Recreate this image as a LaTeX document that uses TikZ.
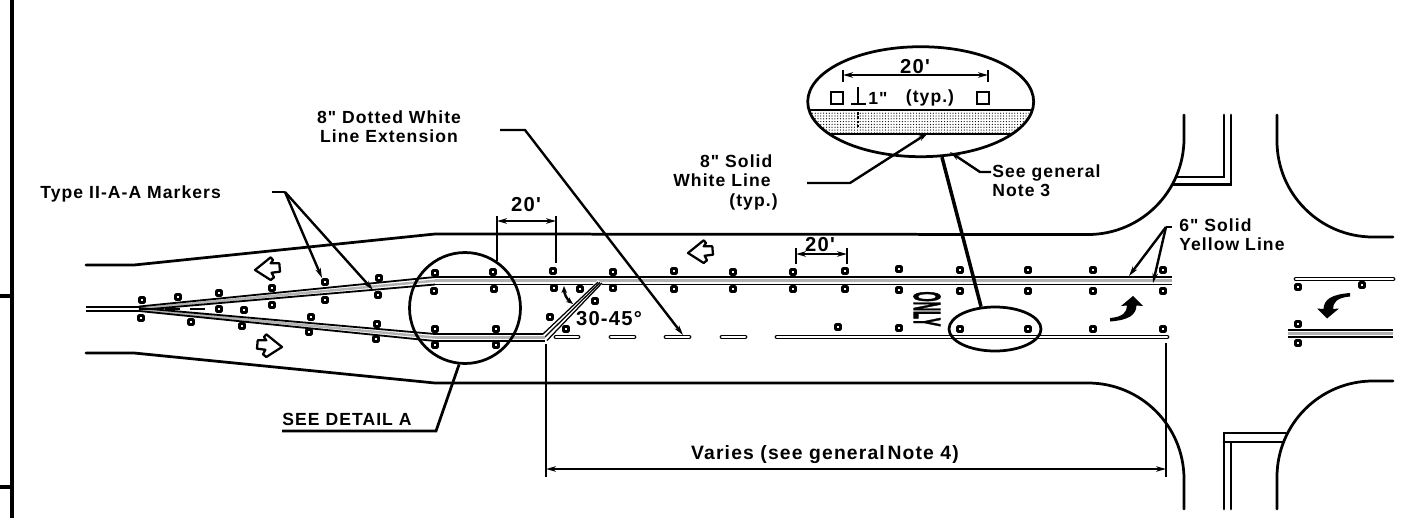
\documentclass[tikz,border=0pt]{standalone}
\usepackage{fontspec}
\setmainfont[LetterSpace=6,Ligatures=TeXOff]{Liberation Sans}
\usetikzlibrary{arrows.meta,shapes.geometric,patterns.meta}
\newcommand{\lblfont}{\fontsize{10}{11}\selectfont\bfseries}
\tikzset{
	roadline/.style={line width=.055cm,line cap=round},
	leader/.style={line width=.048cm},
	dimline/.style={line width=.042cm,<->},
	lbl/.style={inner sep=0,font=\lblfont},
	biglbl/.style={inner sep=0,font=\fontsize{11.5}{13}\selectfont\bfseries},
	marker/.style={draw,rectangle,rounded corners=.5pt,line width=.055cm,minimum size=.1cm,inner sep=0},
	band/.style={line width=.036cm},
	bandmid/.style={line width=.05cm,gray!60},
	pill/.style={line width=.025cm,double=white,double distance=.045cm,line cap=round},
	blockarrow/.pic={\draw[line width=.045cm,line join=round] (0,0) -- (15.7,-12.7) -- (18,-10) -- (15.7,-6.7) -- (24.3,-6.7) -- (25,1.7) -- (16.7,2.7) -- (19,7.3) -- (15.7,10) -- cycle;},
	turnarrow/.pic={\fill (0,0) -- (10,10) -- (3.5,9.5) .. controls (3,19) and (-4,24) .. (-23,25.5) -- (-23,22) .. controls (-10,21) and (-6,16) .. (-6,9.5) -- (-12,10) -- cycle;}
}
\begin{document}
\begin{tikzpicture}[x=.02cm,y=-.02cm,>={Stealth[length=.2cm,width=.11cm]}]
	\useasboundingbox (0,0) rectangle (1421,518);
	% sheet border
	\draw[line width=.09cm] (12,0) -- (12,518);
	\draw[line width=.07cm] (0,296) -- (12,296) (0,487) -- (12,487);
	% road edges
	\draw[roadline] (86,265) -- (134,265) -- (435,234) -- (1088,234.5) arc[start angle=90,end angle=0,radius=96] -- (1184,115);
	\draw[roadline] (86,353) -- (134,353) -- (435,383) -- (1088,383) arc[start angle=-90,end angle=0,radius=96] -- (1184,509);
	\draw[roadline] (1277,115) -- (1277,141) arc[start angle=180,end angle=90,radius=96] -- (1393,237);
	\draw[roadline] (1277,509) -- (1277,477) arc[start angle=180,end angle=270,radius=96] -- (1393,381);
	% stop bars
	\draw[roadline] (1224,115) -- (1224,177) -- (1177,177);
	\draw[roadline] (1231,115) -- (1231,184.5) -- (1173,184.5);
	\draw[roadline] (1224,509) -- (1224,433) -- (1286,433);
	\draw[roadline] (1231,509) -- (1231,442) -- (1224,442) (1231,442) -- (1283,442);
	% pavement markings
	\draw[band] (86,307) -- (139,307) (86,311) -- (139,311);
	\draw[bandmid] (139,308.5) -- (435,280.7);
	\draw[band] (139,306.5) -- (435,277) (139,310) -- (435,284.5);
	\draw[bandmid] (139,309.5) -- (435,337.5);
	\draw[band] (139,308) -- (435,334) (139,311) -- (435,341);
	\draw[line width=.05cm] (139,309) -- (150,309) (165,309) -- (180,309) (190,309) -- (205,309);
	\draw[bandmid] (435,280.7) -- (1172,280.7);
	\draw[band] (435,277) -- (1172,277) (435,284.5) -- (1172,284.5);
	\draw[bandmid] (435,337.5) -- (545,337.5);
	\draw[band] (435,334) -- (545,334) (435,341) -- (545,341);
	\draw[white,line width=.12cm] (545,337) -- (600,282);
	\draw[line width=.025cm] (543,334) -- (598,282) (545,337) -- (600,282.5) (547,340.5) -- (602,283);
	\foreach \xa/\xb in {556/578,611/634,666/689,722/745,777/1167}
		\draw[pill] (\xa,337) -- (\xb,337);
	\draw[pill] (1296,279) -- (1393,279);
	\draw[bandmid] (1288,333.5) -- (1393,333.5);
	\draw[band] (1288,330) -- (1393,330) (1288,337) -- (1393,337);
	% raised markers
	\foreach \mx/\my [count=\i] in {142/300,141/318,178/297,191/322,219/293,219/309,244/310,242/326,272/288,272/305,311/317,309/332,325/282,325/300,377/324,376/339,379/278,378/295,435/273,434/291,435/329,435/345,493/272,494/289,496/329,496/345,553/271,554/288,580/289,595/301,550/317,566/329,613/272,613/288,674/271,674/289,733/272,733/289,793/272,793/289,845/271,845/289,899/269,899/290,960/270,960/291,1028/270,1028/291,1093/270,1093/291,1163/270,1163/291,838/327,899/328,960/329,1028/329,1093/329,1163/329,1298/287,1362/285,1298/324,1298/343}
		\node[marker] (mk\i) at (\mx,\my) {};
	% pavement arrows
	\pic at (255,270) {blockarrow};
	\pic[xscale=-1] at (282,347) {blockarrow};
	\pic at (688,253) {blockarrow};
	\pic at (1133,296) {turnarrow};
	\pic[rotate=180] at (1327,318.5) {turnarrow};
	\node[inner sep=0] (onlyword) at (927,309) {\rotatebox{-90}{\scalebox{.82}[2.4]{\fontsize{9}{10}\selectfont\bfseries\addfontfeature{LetterSpace=0,FakeBold=2.5}ONLY}}};
	% detail circles
	\node[draw,circle,line width=.055cm,minimum size=2.22cm,inner sep=0] (detailA) at (465,308) {};
	\node[draw,ellipse,line width=.055cm,minimum width=1.84cm,minimum height=.88cm,inner sep=0] (smallOval) at (995,329) {};
	\begin{scope}
		\clip (920.7,101.7) ellipse [x radius=113,y radius=55];
		\fill[pattern={Dots[distance=1.6pt,radius=.35pt]}] (800,110) rectangle (1040,134);
		\draw[line width=.03cm] (800,110) -- (1040,110) (800,134) -- (1040,134);
	\end{scope}
	\node[draw,ellipse,line width=.055cm,minimum width=4.52cm,minimum height=2.2cm,inner sep=0] (bigOval) at (920.7,101.7) {};
	\draw[line width=.07cm] (bigOval.-69) -- (smallOval.122);
	% callout contents
	\node[draw,line width=.04cm,minimum size=.24cm,inner sep=0] (boxL) at (837,98) {};
	\node[draw,line width=.04cm,minimum size=.24cm,inner sep=0] (boxR) at (983,98) {};
	\coordinate (calloutDimL) at (843,75);
	\coordinate (calloutDimR) at (988,75);
	\draw[leader] (843,70) -- (843,82) (988,70) -- (988,82);
	\draw[dimline] (calloutDimL) -- (calloutDimR);
	\node[biglbl] (calloutTw) at (915,67) {20'};
	\draw[leader] (858,87) -- (858,104) (851,104) -- (866,104);
	\draw[line width=.05cm,densely dotted] (858,112) -- (858,129);
	\node[lbl] (oneInch) at (878,98) {1"};
	\node[lbl] (typA) at (930,98) {(typ.)};
	% dimensions
	\coordinate (dimAL) at (497,221);
	\coordinate (dimAR) at (556,221);
	\draw[leader] (497,216) -- (497,261) (556,216) -- (556,263);
	\draw[dimline] (dimAL) -- (dimAR);
	\node[biglbl] (dimAlbl) at (526,205) {20'};
	\coordinate (dimBL) at (796,254);
	\coordinate (dimBR) at (847,254);
	\draw[leader] (796,248) -- (796,264) (847,248) -- (847,264);
	\draw[dimline] (dimBL) -- (dimBR);
	\node[biglbl] (dimBlbl) at (820,245) {20'};
	\coordinate (dimCL) at (546,469);
	\coordinate (dimCR) at (1166,469);
	\draw[leader] (546,344) -- (546,477) (1166,343) -- (1166,477);
	\draw[dimline] (dimCL) -- (dimCR);
	\node[inner sep=0,font=\fontsize{11}{12}\selectfont\bfseries] (variesLbl) at (825,455) {Varies (see general\hspace{-.2em} Note 4)};
	\node[biglbl] (angleLbl) at (609,319) {30-45°};
	\coordinate (angA) at (564,286);
	\coordinate (angB) at (573,304);
	\draw[leader,<->,>={Stealth[length=.14cm,width=.11cm]}] (angA) to[bend right=25] (angB);
	% leaders and notes
	\node[lbl,anchor=west] (markersLbl) at (40,194) {Type II-A-A Markers};
	\coordinate (markersStart) at (272,192);
	\coordinate (markersHub) at (285,192);
	\coordinate (markersEndA) at (322,278);
	\coordinate (markersEndB) at (373,290);
	\draw[leader] (markersStart) -- (markersHub);
	\draw[leader,->] (markersHub) -- (markersEndA);
	\draw[leader,->] (markersHub) -- (markersEndB);
	\node[lbl] (dottedLbl) at (389,129) {\begin{tabular}{@{}c@{}} 8" Dotted White \\ Line Extension \end{tabular}};
	\coordinate (dottedStart) at (500,130);
	\coordinate (dottedKnee) at (525,130);
	\coordinate (dottedEnd) at (683,335);
	\draw[leader,->] (dottedStart) -- (dottedKnee) -- (dottedEnd);
	\node[lbl,anchor=east] (solidWhiteLbl) at (778,183) {\begin{tabular}{@{}r@{}} 8" Solid\hspace{.3em} \\ White Line\hspace{.4em} \\ (typ.) \end{tabular}};
	\coordinate (solidStart) at (807,183);
	\coordinate (solidKnee) at (850,183);
	\coordinate (solidEnd) at (928,133);
	\draw[leader,->] (solidStart) -- (solidKnee) -- (solidEnd);
	\node[lbl,anchor=west] (noteLbl) at (992,183) {\begin{tabular}{@{}l@{}} See general \\ Note 3 \end{tabular}};
	\coordinate (noteStart) at (991,172);
	\coordinate (noteKnee) at (980,172);
	\coordinate (noteEnd) at (950,152);
	\draw[leader,->] (noteStart) -- (noteKnee) -- (noteEnd);
	\node[lbl,anchor=west] (yellowLbl) at (1179,237) {\begin{tabular}{@{}l@{}} 6" Solid \\ Yellow Line \end{tabular}};
	\coordinate (yellowStart) at (1172,227);
	\coordinate (yellowHub) at (1166,227);
	\coordinate (yellowEndA) at (1129,276);
	\coordinate (yellowEndB) at (1153,283);
	\draw[leader] (yellowStart) -- (yellowHub);
	\draw[leader,->] (yellowHub) -- (yellowEndA);
	\draw[leader,->] (yellowHub) -- (yellowEndB);
	\node[lbl,anchor=south west] (detailLbl) at (282,426) {SEE DETAIL A};
	\coordinate (detailKnee) at (436,431);
	\coordinate (detailEnd) at (282,431);
	\draw[line width=.055cm] (detailA.264) -- (detailKnee) -- (detailEnd);
\end{tikzpicture}
\end{document}
